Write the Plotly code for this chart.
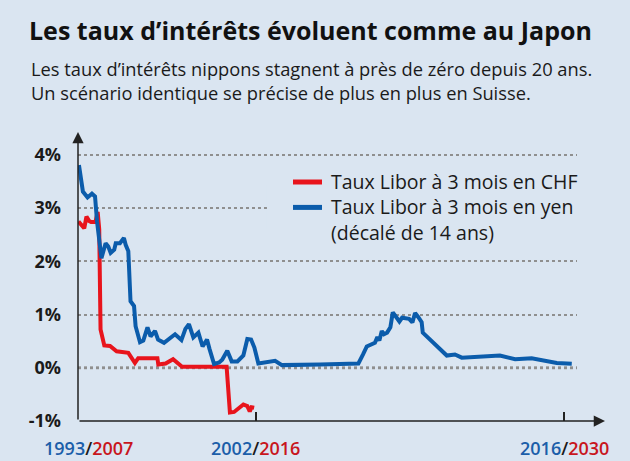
import plotly.graph_objects as go

# CHF 3-month Libor (years as on the axis, 2007-2030 scale)
chf_years = [2007.96, 2008.11, 2008.22, 2008.32, 2008.44, 2008.53, 2008.73, 2008.83,
             2008.90, 2008.96, 2009.13, 2009.39, 2009.69, 2010.22, 2010.52, 2010.67,
             2011.54, 2011.58, 2011.91, 2012.25, 2012.66, 2014.68, 2014.83, 2015.02,
             2015.44, 2015.62, 2015.73, 2015.81, 2015.93]
chf_rate = [2.75, 2.69, 2.62, 2.84, 2.76, 2.74, 2.74, 2.93,
            2.60, 0.72, 0.42, 0.41, 0.31, 0.28, 0.09, 0.18,
            0.18, 0.06, 0.08, 0.16, 0.02, 0.02, -0.84, -0.83,
            -0.69, -0.72, -0.82, -0.74, -0.75]

# Yen 3-month Libor (real years, shown shifted by 14 years)
yen_years = [1993.98, 1994.16, 1994.37, 1994.57, 1994.71, 1994.80, 1995.00, 1995.19,
             1995.31, 1995.42, 1995.58, 1995.65, 1995.84, 1996.02, 1996.10, 1996.22,
             1996.32, 1996.48, 1996.55, 1996.75, 1996.90, 1997.09, 1997.23, 1997.43,
             1997.57, 1997.84, 1998.34, 1998.63, 1998.81, 1998.97, 1999.17, 1999.40,
             1999.59, 1999.79, 1999.90, 2000.11, 2000.34, 2000.48, 2000.71, 2000.91,
             2001.17, 2001.44, 2001.62, 2001.79, 2001.94, 2002.12, 2002.88, 2003.19,
             2004.92, 2006.66, 2006.87, 2007.04, 2007.41, 2007.52, 2007.61, 2007.72,
             2007.82, 2007.96, 2008.11, 2008.22, 2008.38, 2008.52, 2008.64, 2008.96,
             2009.11, 2009.23, 2009.38, 2009.53, 2009.58, 2010.67, 2011.04, 2011.35,
             2013.08, 2013.77, 2014.52, 2015.13, 2015.66, 2016.34]
yen_rate = [3.81, 3.31, 3.20, 3.27, 3.22, 2.75, 2.06, 2.34,
            2.28, 2.16, 2.22, 2.34, 2.34, 2.44, 2.31, 2.19,
            1.25, 1.16, 0.78, 0.48, 0.51, 0.76, 0.59, 0.69,
            0.53, 0.47, 0.63, 0.52, 0.73, 0.82, 0.57, 0.66,
            0.40, 0.53, 0.36, 0.07, 0.10, 0.15, 0.32, 0.12,
            0.12, 0.23, 0.54, 0.53, 0.38, 0.08, 0.13, 0.05,
            0.06, 0.08, 0.25, 0.40, 0.47, 0.58, 0.51, 0.69,
            0.63, 0.66, 0.76, 1.04, 0.95, 0.87, 0.94, 0.92,
            0.85, 1.03, 0.95, 0.855, 0.66, 0.23, 0.25, 0.19,
            0.23, 0.16, 0.18, 0.14, 0.09, 0.075]
SHIFT = 14

y_ticks = [-1, 0, 1, 2, 3, 4]
y_labels = ["-1%", "0%", "1%", "2%", "3%", "4%"]
x_ticks = [2016, 2030]
x_labels = [("1993", "2007"), ("2002", "2016"), ("2016", "2030")]
legend_names = ["Taux Libor à 3 mois en CHF", "Taux Libor à 3 mois en yen",
                "(décalé de 14 ans)"]

BG = "#dae5f1"
RED = "#e8141c"
BLUE = "#0b5cab"
RED_TXT = "#c8161d"
BLUE_TXT = "#1b5ea9"
FONT = "Open Sans"

# plot area in pixels: left 78, right 577, top 132, bottom 421
PW, PH = 499, 289


def px_x(p):
    return (p - 78) / PW


def px_y(p):
    return (421 - p) / PH


fig = go.Figure()
fig.add_trace(go.Scatter(
    x=chf_years, y=chf_rate, mode="lines",
    line=dict(color=RED, width=4),
    name=legend_names[0],
))
fig.add_trace(go.Scatter(
    x=[v + SHIFT for v in yen_years], y=yen_rate, mode="lines",
    line=dict(color=BLUE, width=4),
    name=" ".join(legend_names[1:]),
))

x0, x1 = 2007.937, 2030.578

fig.update_layout(
    width=630, height=461,
    margin=dict(l=78, r=53, t=132, b=40),
    paper_bgcolor=BG, plot_bgcolor=BG,
    font=dict(family=FONT, color="#1a1a1a"),
    title=dict(text="<b>Les taux d’intérêts évoluent comme au Japon</b>",
               font=dict(size=25, color="#111"),
               xref="container", x=29 / 630, xanchor="left",
               yref="container", y=1 - 31 / 461, yanchor="middle"),
    showlegend=False,
    xaxis=dict(range=[x0, x1], showgrid=False, zeroline=False, showline=False,
               tickvals=x_ticks, ticks="inside", ticklen=9, tickwidth=1.5,
               tickcolor="#222", showticklabels=False, fixedrange=True),
    yaxis=dict(range=[-1, 4.43], tickvals=y_ticks, ticktext=y_labels,
               showgrid=True, gridcolor="#8f8f8f", griddash="dot", gridwidth=1.5,
               zeroline=False, showline=False, ticks="",
               tickfont=dict(size=18, color="#1a1a1a", weight="bold"),
               ticklabelstandoff=16, fixedrange=True),
)

# thicker dotted 0% line
fig.add_shape(type="line", xref="paper", yref="y", x0=0, x1=1, y0=0, y1=0,
              line=dict(color="#999999", width=3, dash="dot"), layer="below")

# legend background hides the gridline behind it
fig.add_shape(type="rect", xref="x", yref="y",
              x0=2016.51, x1=x1 + 0.2, y0=2.6, y1=3.45,
              fillcolor=BG, line=dict(width=0), layer="between")

# legend
for color, ypx in [(RED, 182), (BLUE, 207.4)]:
    fig.add_shape(type="line", xref="paper", yref="paper",
                  x0=px_x(293), x1=px_x(322), y0=px_y(ypx), y1=px_y(ypx),
                  line=dict(color=color, width=5))
fig.add_annotation(xref="paper", yref="paper", x=px_x(329), y=px_y(207.4),
                   xanchor="left", yanchor="middle", align="left",
                   text="<br>".join(legend_names), showarrow=False,
                   font=dict(size=19.5, color="#1a1a1a"))

# axes with arrowheads
fig.add_annotation(xref="paper", yref="paper", x=px_x(605), y=0,
                   ax=-(605 - 78), ay=0, text="", showarrow=True,
                   arrowhead=2, arrowsize=1.5, arrowwidth=1.5, arrowcolor="#222")
fig.add_annotation(xref="paper", yref="paper", x=0, y=1,
                   ax=0, ay=PH, text="", showarrow=True,
                   arrowhead=2, arrowsize=1.5, arrowwidth=1.5, arrowcolor="#222")

# subtitle
fig.add_annotation(xref="paper", yref="paper", x=px_x(29), y=px_y(81),
                   xanchor="left", yanchor="middle", align="left", showarrow=False,
                   text="Les taux d’intérêts nippons stagnent à près de zéro depuis 20 ans."
                        "<br>Un scénario identique se précise de plus en plus en Suisse.",
                   font=dict(size=18.3, color="#1a1a1a"))

# bottom year labels
label_pos = [x0, x_ticks[0], x_ticks[1]]
for (xv, (yb, yr)), shift in zip(zip(label_pos, x_labels), [10, 0, 0]):
    fig.add_annotation(xref="x", yref="paper", x=xv, y=0, yshift=-27, xshift=shift,
                       xanchor="center", yanchor="middle", showarrow=False,
                       text=f"<span style='color:{BLUE_TXT}'>{yb}</span>/"
                            f"<span style='color:{RED_TXT}'>{yr}</span>",
                       font=dict(size=18, color="#1a1a1a", weight=600))

fig.write_html("out.html", config={"displayModeBar": False},
               post_script="document.body.style.margin='0';"
                           "document.body.style.background='#dae5f1';")
